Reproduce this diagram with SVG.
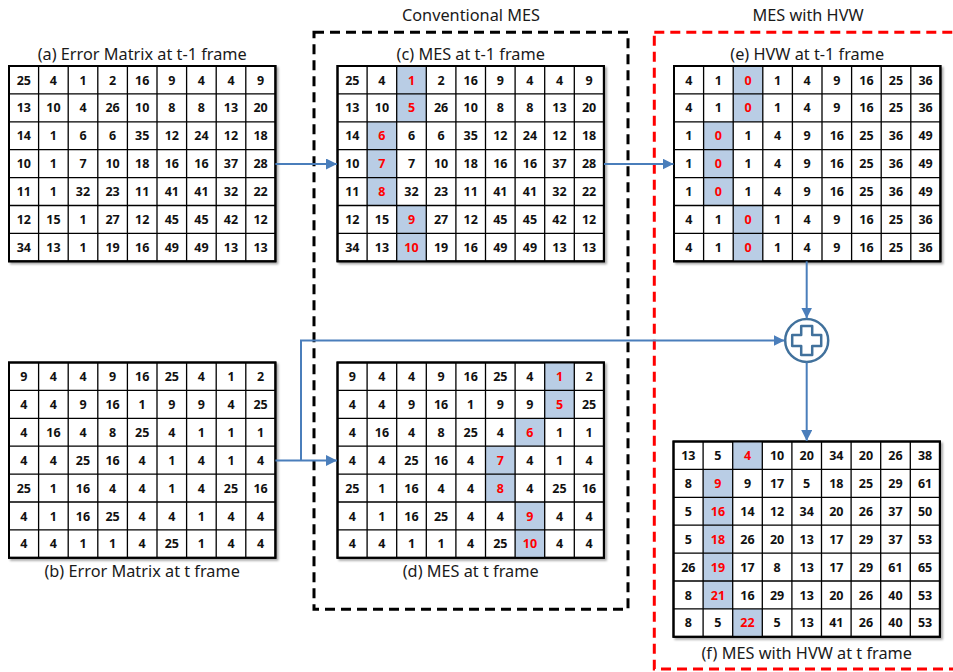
<svg xmlns="http://www.w3.org/2000/svg" xmlns:xlink="http://www.w3.org/1999/xlink" width="953" height="672" viewBox="0 0 953 672">
<style>
.ttl{font-family:"Noto Sans","DejaVu Sans",sans-serif;font-size:16.3px;fill:#1a1a1a;text-anchor:middle}
.num{font-family:"Noto Sans","DejaVu Sans",sans-serif;font-size:12.5px;font-weight:bold;fill:#111;text-anchor:middle}
.r{fill:#ff0000}
.bg{fill:#fff;stroke:#000;stroke-width:2}
.grid{fill:none;stroke:#000;stroke-width:1.3}
.sh{fill:#b9cde5}
.conn{fill:none;stroke:#4a7ebb;stroke-width:2}
.box{fill:none;stroke-width:3;stroke-dasharray:10 6}
</style>
<defs>
<filter id="ds" x="-5%" y="-5%" width="110%" height="110%">
<feDropShadow dx="2" dy="2" stdDeviation="1.2" flood-color="#000" flood-opacity="0.35"/>
</filter>
<marker id="ah" viewBox="0 0 10 10" refX="10" refY="5" markerWidth="5.5" markerHeight="5.5" orient="auto" markerUnits="strokeWidth">
<path d="M0,0 L10,5 L0,10 z" fill="#4a7ebb"/>
</marker>
<rect id="cellbg" class="bg" x="0" y="0" width="266.4" height="195.3"/>
<path id="grid" class="grid" d="M29.6 0V195.3M59.2 0V195.3M88.8 0V195.3M118.4 0V195.3M148 0V195.3M177.6 0V195.3M207.2 0V195.3M236.8 0V195.3M0 27.9H266.4M0 55.8H266.4M0 83.7H266.4M0 111.6H266.4M0 139.5H266.4M0 167.4H266.4"/>
<rect id="frame" x="0" y="0" width="266.4" height="195.3" fill="none" stroke="#000" stroke-width="2"/>
</defs>

<g id="labels">
<text class="ttl" x="471" y="21">Conventional MES</text>
<text class="ttl" x="808" y="21">MES with HVW</text>
</g>

<g id="boxes">
<rect class="box" x="314" y="32.3" width="314" height="577" stroke="#000"/>
<rect class="box" x="654.3" y="32.3" width="330" height="636.7" stroke="#ff0000"/>
</g>

<g id="matrixA" transform="translate(9,66)">
<use xlink:href="#cellbg" filter="url(#ds)"/>
<use xlink:href="#grid"/><use xlink:href="#frame"/>
<text class="num" y="18.5"><tspan x="14.8">25</tspan><tspan x="44.4">4</tspan><tspan x="74">1</tspan><tspan x="103.6">2</tspan><tspan x="133.2">16</tspan><tspan x="162.8">9</tspan><tspan x="192.4">4</tspan><tspan x="222">4</tspan><tspan x="251.6">9</tspan></text>
<text class="num" y="46.4"><tspan x="14.8">13</tspan><tspan x="44.4">10</tspan><tspan x="74">4</tspan><tspan x="103.6">26</tspan><tspan x="133.2">10</tspan><tspan x="162.8">8</tspan><tspan x="192.4">8</tspan><tspan x="222">13</tspan><tspan x="251.6">20</tspan></text>
<text class="num" y="74.3"><tspan x="14.8">14</tspan><tspan x="44.4">1</tspan><tspan x="74">6</tspan><tspan x="103.6">6</tspan><tspan x="133.2">35</tspan><tspan x="162.8">12</tspan><tspan x="192.4">24</tspan><tspan x="222">12</tspan><tspan x="251.6">18</tspan></text>
<text class="num" y="102.2"><tspan x="14.8">10</tspan><tspan x="44.4">1</tspan><tspan x="74">7</tspan><tspan x="103.6">10</tspan><tspan x="133.2">18</tspan><tspan x="162.8">16</tspan><tspan x="192.4">16</tspan><tspan x="222">37</tspan><tspan x="251.6">28</tspan></text>
<text class="num" y="130.1"><tspan x="14.8">11</tspan><tspan x="44.4">1</tspan><tspan x="74">32</tspan><tspan x="103.6">23</tspan><tspan x="133.2">11</tspan><tspan x="162.8">41</tspan><tspan x="192.4">41</tspan><tspan x="222">32</tspan><tspan x="251.6">22</tspan></text>
<text class="num" y="158"><tspan x="14.8">12</tspan><tspan x="44.4">15</tspan><tspan x="74">1</tspan><tspan x="103.6">27</tspan><tspan x="133.2">12</tspan><tspan x="162.8">45</tspan><tspan x="192.4">45</tspan><tspan x="222">42</tspan><tspan x="251.6">12</tspan></text>
<text class="num" y="185.9"><tspan x="14.8">34</tspan><tspan x="44.4">13</tspan><tspan x="74">1</tspan><tspan x="103.6">19</tspan><tspan x="133.2">16</tspan><tspan x="162.8">49</tspan><tspan x="192.4">49</tspan><tspan x="222">13</tspan><tspan x="251.6">13</tspan></text>
<text class="ttl" x="133.2" y="-6">(a) Error Matrix at t-1 frame</text>
</g>

<g id="matrixB" transform="translate(9,362.5)">
<use xlink:href="#cellbg" filter="url(#ds)"/>
<use xlink:href="#grid"/><use xlink:href="#frame"/>
<text class="num" y="18.5"><tspan x="14.8">9</tspan><tspan x="44.4">4</tspan><tspan x="74">4</tspan><tspan x="103.6">9</tspan><tspan x="133.2">16</tspan><tspan x="162.8">25</tspan><tspan x="192.4">4</tspan><tspan x="222">1</tspan><tspan x="251.6">2</tspan></text>
<text class="num" y="46.4"><tspan x="14.8">4</tspan><tspan x="44.4">4</tspan><tspan x="74">9</tspan><tspan x="103.6">16</tspan><tspan x="133.2">1</tspan><tspan x="162.8">9</tspan><tspan x="192.4">9</tspan><tspan x="222">4</tspan><tspan x="251.6">25</tspan></text>
<text class="num" y="74.3"><tspan x="14.8">4</tspan><tspan x="44.4">16</tspan><tspan x="74">4</tspan><tspan x="103.6">8</tspan><tspan x="133.2">25</tspan><tspan x="162.8">4</tspan><tspan x="192.4">1</tspan><tspan x="222">1</tspan><tspan x="251.6">1</tspan></text>
<text class="num" y="102.2"><tspan x="14.8">4</tspan><tspan x="44.4">4</tspan><tspan x="74">25</tspan><tspan x="103.6">16</tspan><tspan x="133.2">4</tspan><tspan x="162.8">1</tspan><tspan x="192.4">4</tspan><tspan x="222">1</tspan><tspan x="251.6">4</tspan></text>
<text class="num" y="130.1"><tspan x="14.8">25</tspan><tspan x="44.4">1</tspan><tspan x="74">16</tspan><tspan x="103.6">4</tspan><tspan x="133.2">4</tspan><tspan x="162.8">1</tspan><tspan x="192.4">4</tspan><tspan x="222">25</tspan><tspan x="251.6">16</tspan></text>
<text class="num" y="158"><tspan x="14.8">4</tspan><tspan x="44.4">1</tspan><tspan x="74">16</tspan><tspan x="103.6">25</tspan><tspan x="133.2">4</tspan><tspan x="162.8">4</tspan><tspan x="192.4">1</tspan><tspan x="222">4</tspan><tspan x="251.6">4</tspan></text>
<text class="num" y="185.9"><tspan x="14.8">4</tspan><tspan x="44.4">4</tspan><tspan x="74">1</tspan><tspan x="103.6">1</tspan><tspan x="133.2">4</tspan><tspan x="162.8">25</tspan><tspan x="192.4">1</tspan><tspan x="222">4</tspan><tspan x="251.6">4</tspan></text>
<text class="ttl" x="133.2" y="214.5">(b) Error Matrix at t frame</text>
</g>

<g id="matrixC" transform="translate(337.5,66)">
<use xlink:href="#cellbg" filter="url(#ds)"/>
<rect class="sh" x="59.2" y="0" width="29.6" height="55.8"/>
<rect class="sh" x="29.6" y="55.8" width="29.6" height="83.7"/>
<rect class="sh" x="59.2" y="139.5" width="29.6" height="55.8"/>
<use xlink:href="#grid"/><use xlink:href="#frame"/>
<text class="num" y="18.5"><tspan x="14.8">25</tspan><tspan x="44.4">4</tspan><tspan class="r" x="74">1</tspan><tspan x="103.6">2</tspan><tspan x="133.2">16</tspan><tspan x="162.8">9</tspan><tspan x="192.4">4</tspan><tspan x="222">4</tspan><tspan x="251.6">9</tspan></text>
<text class="num" y="46.4"><tspan x="14.8">13</tspan><tspan x="44.4">10</tspan><tspan class="r" x="74">5</tspan><tspan x="103.6">26</tspan><tspan x="133.2">10</tspan><tspan x="162.8">8</tspan><tspan x="192.4">8</tspan><tspan x="222">13</tspan><tspan x="251.6">20</tspan></text>
<text class="num" y="74.3"><tspan x="14.8">14</tspan><tspan class="r" x="44.4">6</tspan><tspan x="74">6</tspan><tspan x="103.6">6</tspan><tspan x="133.2">35</tspan><tspan x="162.8">12</tspan><tspan x="192.4">24</tspan><tspan x="222">12</tspan><tspan x="251.6">18</tspan></text>
<text class="num" y="102.2"><tspan x="14.8">10</tspan><tspan class="r" x="44.4">7</tspan><tspan x="74">7</tspan><tspan x="103.6">10</tspan><tspan x="133.2">18</tspan><tspan x="162.8">16</tspan><tspan x="192.4">16</tspan><tspan x="222">37</tspan><tspan x="251.6">28</tspan></text>
<text class="num" y="130.1"><tspan x="14.8">11</tspan><tspan class="r" x="44.4">8</tspan><tspan x="74">32</tspan><tspan x="103.6">23</tspan><tspan x="133.2">11</tspan><tspan x="162.8">41</tspan><tspan x="192.4">41</tspan><tspan x="222">32</tspan><tspan x="251.6">22</tspan></text>
<text class="num" y="158"><tspan x="14.8">12</tspan><tspan x="44.4">15</tspan><tspan class="r" x="74">9</tspan><tspan x="103.6">27</tspan><tspan x="133.2">12</tspan><tspan x="162.8">45</tspan><tspan x="192.4">45</tspan><tspan x="222">42</tspan><tspan x="251.6">12</tspan></text>
<text class="num" y="185.9"><tspan x="14.8">34</tspan><tspan x="44.4">13</tspan><tspan class="r" x="74">10</tspan><tspan x="103.6">19</tspan><tspan x="133.2">16</tspan><tspan x="162.8">49</tspan><tspan x="192.4">49</tspan><tspan x="222">13</tspan><tspan x="251.6">13</tspan></text>
<text class="ttl" x="133.2" y="-6">(c) MES at t-1 frame</text>
</g>

<g id="matrixD" transform="translate(337.5,362.5)">
<use xlink:href="#cellbg" filter="url(#ds)"/>
<rect class="sh" x="207.2" y="0" width="29.6" height="55.8"/>
<rect class="sh" x="177.6" y="55.8" width="29.6" height="27.9"/>
<rect class="sh" x="148" y="83.7" width="29.6" height="55.8"/>
<rect class="sh" x="177.6" y="139.5" width="29.6" height="55.8"/>
<use xlink:href="#grid"/><use xlink:href="#frame"/>
<text class="num" y="18.5"><tspan x="14.8">9</tspan><tspan x="44.4">4</tspan><tspan x="74">4</tspan><tspan x="103.6">9</tspan><tspan x="133.2">16</tspan><tspan x="162.8">25</tspan><tspan x="192.4">4</tspan><tspan class="r" x="222">1</tspan><tspan x="251.6">2</tspan></text>
<text class="num" y="46.4"><tspan x="14.8">4</tspan><tspan x="44.4">4</tspan><tspan x="74">9</tspan><tspan x="103.6">16</tspan><tspan x="133.2">1</tspan><tspan x="162.8">9</tspan><tspan x="192.4">9</tspan><tspan class="r" x="222">5</tspan><tspan x="251.6">25</tspan></text>
<text class="num" y="74.3"><tspan x="14.8">4</tspan><tspan x="44.4">16</tspan><tspan x="74">4</tspan><tspan x="103.6">8</tspan><tspan x="133.2">25</tspan><tspan x="162.8">4</tspan><tspan class="r" x="192.4">6</tspan><tspan x="222">1</tspan><tspan x="251.6">1</tspan></text>
<text class="num" y="102.2"><tspan x="14.8">4</tspan><tspan x="44.4">4</tspan><tspan x="74">25</tspan><tspan x="103.6">16</tspan><tspan x="133.2">4</tspan><tspan class="r" x="162.8">7</tspan><tspan x="192.4">4</tspan><tspan x="222">1</tspan><tspan x="251.6">4</tspan></text>
<text class="num" y="130.1"><tspan x="14.8">25</tspan><tspan x="44.4">1</tspan><tspan x="74">16</tspan><tspan x="103.6">4</tspan><tspan x="133.2">4</tspan><tspan class="r" x="162.8">8</tspan><tspan x="192.4">4</tspan><tspan x="222">25</tspan><tspan x="251.6">16</tspan></text>
<text class="num" y="158"><tspan x="14.8">4</tspan><tspan x="44.4">1</tspan><tspan x="74">16</tspan><tspan x="103.6">25</tspan><tspan x="133.2">4</tspan><tspan x="162.8">4</tspan><tspan class="r" x="192.4">9</tspan><tspan x="222">4</tspan><tspan x="251.6">4</tspan></text>
<text class="num" y="185.9"><tspan x="14.8">4</tspan><tspan x="44.4">4</tspan><tspan x="74">1</tspan><tspan x="103.6">1</tspan><tspan x="133.2">4</tspan><tspan x="162.8">25</tspan><tspan class="r" x="192.4">10</tspan><tspan x="222">4</tspan><tspan x="251.6">4</tspan></text>
<text class="ttl" x="133.2" y="214.5">(d) MES at t frame</text>
</g>

<g id="matrixE" transform="translate(674,66)">
<use xlink:href="#cellbg" filter="url(#ds)"/>
<rect class="sh" x="59.2" y="0" width="29.6" height="55.8"/>
<rect class="sh" x="29.6" y="55.8" width="29.6" height="83.7"/>
<rect class="sh" x="59.2" y="139.5" width="29.6" height="55.8"/>
<use xlink:href="#grid"/><use xlink:href="#frame"/>
<text class="num" y="18.5"><tspan x="14.8">4</tspan><tspan x="44.4">1</tspan><tspan class="r" x="74">0</tspan><tspan x="103.6">1</tspan><tspan x="133.2">4</tspan><tspan x="162.8">9</tspan><tspan x="192.4">16</tspan><tspan x="222">25</tspan><tspan x="251.6">36</tspan></text>
<text class="num" y="46.4"><tspan x="14.8">4</tspan><tspan x="44.4">1</tspan><tspan class="r" x="74">0</tspan><tspan x="103.6">1</tspan><tspan x="133.2">4</tspan><tspan x="162.8">9</tspan><tspan x="192.4">16</tspan><tspan x="222">25</tspan><tspan x="251.6">36</tspan></text>
<text class="num" y="74.3"><tspan x="14.8">1</tspan><tspan class="r" x="44.4">0</tspan><tspan x="74">1</tspan><tspan x="103.6">4</tspan><tspan x="133.2">9</tspan><tspan x="162.8">16</tspan><tspan x="192.4">25</tspan><tspan x="222">36</tspan><tspan x="251.6">49</tspan></text>
<text class="num" y="102.2"><tspan x="14.8">1</tspan><tspan class="r" x="44.4">0</tspan><tspan x="74">1</tspan><tspan x="103.6">4</tspan><tspan x="133.2">9</tspan><tspan x="162.8">16</tspan><tspan x="192.4">25</tspan><tspan x="222">36</tspan><tspan x="251.6">49</tspan></text>
<text class="num" y="130.1"><tspan x="14.8">1</tspan><tspan class="r" x="44.4">0</tspan><tspan x="74">1</tspan><tspan x="103.6">4</tspan><tspan x="133.2">9</tspan><tspan x="162.8">16</tspan><tspan x="192.4">25</tspan><tspan x="222">36</tspan><tspan x="251.6">49</tspan></text>
<text class="num" y="158"><tspan x="14.8">4</tspan><tspan x="44.4">1</tspan><tspan class="r" x="74">0</tspan><tspan x="103.6">1</tspan><tspan x="133.2">4</tspan><tspan x="162.8">9</tspan><tspan x="192.4">16</tspan><tspan x="222">25</tspan><tspan x="251.6">36</tspan></text>
<text class="num" y="185.9"><tspan x="14.8">4</tspan><tspan x="44.4">1</tspan><tspan class="r" x="74">0</tspan><tspan x="103.6">1</tspan><tspan x="133.2">4</tspan><tspan x="162.8">9</tspan><tspan x="192.4">16</tspan><tspan x="222">25</tspan><tspan x="251.6">36</tspan></text>
<text class="ttl" x="133.2" y="-6">(e) HVW at t-1 frame</text>
</g>

<g id="matrixF" transform="translate(673.5,441.5)">
<use xlink:href="#cellbg" filter="url(#ds)"/>
<rect class="sh" x="59.2" y="0" width="29.6" height="27.9"/>
<rect class="sh" x="29.6" y="27.9" width="29.6" height="139.5"/>
<rect class="sh" x="59.2" y="167.4" width="29.6" height="27.9"/>
<use xlink:href="#grid"/><use xlink:href="#frame"/>
<text class="num" y="18.5"><tspan x="14.8">13</tspan><tspan x="44.4">5</tspan><tspan class="r" x="74">4</tspan><tspan x="103.6">10</tspan><tspan x="133.2">20</tspan><tspan x="162.8">34</tspan><tspan x="192.4">20</tspan><tspan x="222">26</tspan><tspan x="251.6">38</tspan></text>
<text class="num" y="46.4"><tspan x="14.8">8</tspan><tspan class="r" x="44.4">9</tspan><tspan x="74">9</tspan><tspan x="103.6">17</tspan><tspan x="133.2">5</tspan><tspan x="162.8">18</tspan><tspan x="192.4">25</tspan><tspan x="222">29</tspan><tspan x="251.6">61</tspan></text>
<text class="num" y="74.3"><tspan x="14.8">5</tspan><tspan class="r" x="44.4">16</tspan><tspan x="74">14</tspan><tspan x="103.6">12</tspan><tspan x="133.2">34</tspan><tspan x="162.8">20</tspan><tspan x="192.4">26</tspan><tspan x="222">37</tspan><tspan x="251.6">50</tspan></text>
<text class="num" y="102.2"><tspan x="14.8">5</tspan><tspan class="r" x="44.4">18</tspan><tspan x="74">26</tspan><tspan x="103.6">20</tspan><tspan x="133.2">13</tspan><tspan x="162.8">17</tspan><tspan x="192.4">29</tspan><tspan x="222">37</tspan><tspan x="251.6">53</tspan></text>
<text class="num" y="130.1"><tspan x="14.8">26</tspan><tspan class="r" x="44.4">19</tspan><tspan x="74">17</tspan><tspan x="103.6">8</tspan><tspan x="133.2">13</tspan><tspan x="162.8">17</tspan><tspan x="192.4">29</tspan><tspan x="222">61</tspan><tspan x="251.6">65</tspan></text>
<text class="num" y="158"><tspan x="14.8">8</tspan><tspan class="r" x="44.4">21</tspan><tspan x="74">16</tspan><tspan x="103.6">29</tspan><tspan x="133.2">13</tspan><tspan x="162.8">20</tspan><tspan x="192.4">26</tspan><tspan x="222">40</tspan><tspan x="251.6">53</tspan></text>
<text class="num" y="185.9"><tspan x="14.8">8</tspan><tspan x="44.4">5</tspan><tspan class="r" x="74">22</tspan><tspan x="103.6">5</tspan><tspan x="133.2">13</tspan><tspan x="162.8">41</tspan><tspan x="192.4">26</tspan><tspan x="222">40</tspan><tspan x="251.6">53</tspan></text>
<text class="ttl" x="133.2" y="217.5">(f) MES with HVW at t frame</text>
</g>

<g id="plus">
<circle cx="806.7" cy="340.5" r="21.5" fill="#fff" stroke="#41719c" stroke-width="2.5"/>
<path d="M801.2 326H812.2V335H821.2V346H812.2V355H801.2V346H792.2V335H801.2Z" fill="#fff" stroke="#41719c" stroke-width="2.5" stroke-linejoin="round"/>
</g>

<g id="connectors">
<path class="conn" d="M275.4 164H337" marker-end="url(#ah)"/>
<path class="conn" d="M604 164H673.5" marker-end="url(#ah)"/>
<path class="conn" d="M275.4 460.5H337" marker-end="url(#ah)"/>
<path class="conn" d="M301 460.5V340.5H784.5" marker-end="url(#ah)"/>
<path class="conn" d="M806.7 261.3V318.5" marker-end="url(#ah)"/>
<path class="conn" d="M806.7 362.5V441" marker-end="url(#ah)"/>
</g>
</svg>
